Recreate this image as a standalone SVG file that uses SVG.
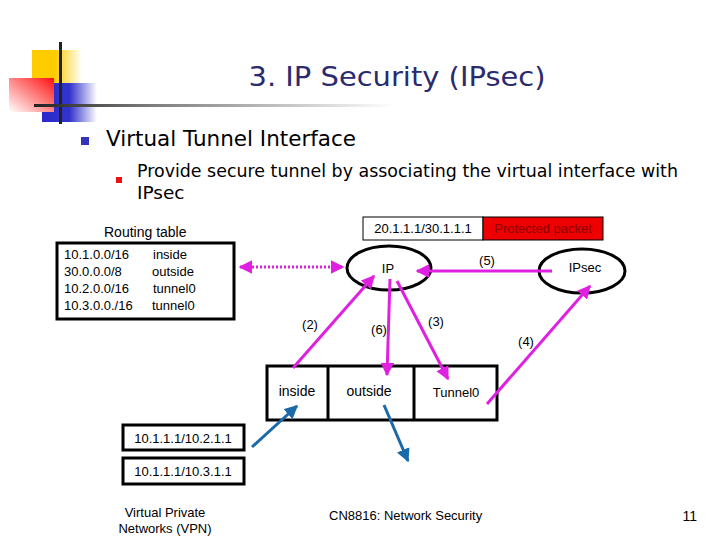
<svg xmlns="http://www.w3.org/2000/svg" width="720" height="540" viewBox="0 0 720 540">
<style>
text{font-family:"DejaVu Sans","Liberation Sans",sans-serif;fill:#000}
.sm{font-family:"Liberation Sans",Arial,sans-serif;font-size:13px}
.box{fill:#fff;stroke:#000;stroke-width:3}
.mag{stroke:#e020e0;stroke-width:3;fill:none}
.blu{stroke:#1a6aaa;stroke-width:3;fill:none}
</style>
<defs>
<linearGradient id="gy" x1="0" y1="0" x2="1" y2="0"><stop offset="0" stop-color="#ffcc00"/><stop offset="0.45" stop-color="#ffcc00"/><stop offset="1" stop-color="#fff"/></linearGradient>
<linearGradient id="gb" x1="0" y1="0" x2="1" y2="0"><stop offset="0" stop-color="#2a2acc"/><stop offset="0.5" stop-color="#3333cc"/><stop offset="1" stop-color="#fff"/></linearGradient>
<linearGradient id="gr" x1="1" y1="0" x2="0" y2="1"><stop offset="0" stop-color="#ff1010"/><stop offset="1" stop-color="#fff"/></linearGradient>
<linearGradient id="gl" x1="0" y1="0" x2="1" y2="0"><stop offset="0" stop-color="#222"/><stop offset="0.3" stop-color="#777"/><stop offset="1" stop-color="#fff"/></linearGradient>
<marker id="am" viewBox="0 0 10 10" refX="9" refY="5" markerWidth="4.5" markerHeight="4.5" orient="auto-start-reverse"><path d="M0,0 L10,5 L0,10 z" fill="#e020e0"/></marker>
<marker id="ab" viewBox="0 0 10 10" refX="9" refY="5" markerWidth="4.5" markerHeight="4.5" orient="auto"><path d="M0,0 L10,5 L0,10 z" fill="#1a6aaa"/></marker>
</defs>
<rect width="720" height="540" fill="#fff"/>
<g id="logo">
<rect x="32" y="50" width="50" height="34" fill="url(#gy)"/>
<rect x="42" y="83" width="55" height="39" fill="url(#gb)"/>
<rect x="9" y="78" width="45" height="34" fill="url(#gr)"/>
<rect x="59" y="42" width="3" height="82" fill="#222"/>
<rect x="34" y="104" width="360" height="3" fill="url(#gl)"/>
</g>
<g id="title"><text x="397" y="86" text-anchor="middle" font-size="27" textLength="297" lengthAdjust="spacingAndGlyphs" style="fill:#2a2a6e;font-family:'DejaVu Sans',sans-serif">3. IP Security (IPsec)</text></g>
<g id="bullets">
<rect x="81" y="137" width="8" height="8" fill="#3333bb"/>
<text x="106" y="146" font-size="21" textLength="250" lengthAdjust="spacingAndGlyphs">Virtual Tunnel Interface</text>
<rect x="116" y="177" width="6" height="6" fill="#ee1111"/>
<text x="137" y="177" font-size="18.5" textLength="541" lengthAdjust="spacingAndGlyphs">Provide secure tunnel by associating the virtual interface with</text>
<text x="137" y="199" font-size="18.5">IPsec</text>
</g>
<g id="routing-table">
<text class="sm" x="104" y="237" style="font-size:14px">Routing table</text>
<rect class="box" x="57" y="243" width="177" height="76"/>
<text class="sm" x="64" y="259">10.1.0.0/16</text><text class="sm" x="153" y="259">inside</text>
<text class="sm" x="64" y="276">30.0.0.0/8</text><text class="sm" x="152" y="276">outside</text>
<text class="sm" x="64" y="293">10.2.0.0/16</text><text class="sm" x="153" y="293">tunnel0</text>
<text class="sm" x="64" y="310">10.3.0.0./16</text><text class="sm" x="152" y="310">tunnel0</text>
</g>
<g id="packet">
<rect x="363" y="217" width="120" height="23" fill="#fff" stroke="#000" stroke-width="1"/>
<rect x="483" y="217" width="120" height="23" fill="#ee0000" stroke="#000" stroke-width="1"/>
<text class="sm" x="423" y="233" text-anchor="middle">20.1.1.1/30.1.1.1</text>
<text class="sm" x="543" y="233" text-anchor="middle" style="fill:#8a0000">Protected packet</text>
</g>
<g id="ip"><ellipse class="box" cx="389" cy="268" rx="42" ry="22"/><text class="sm" x="388" y="273" text-anchor="middle">IP</text></g>
<g id="ipsec"><ellipse class="box" cx="582" cy="271" rx="43" ry="22"/><text class="sm" x="585" y="272" text-anchor="middle">IPsec</text></g>
<g id="interfaces">
<rect class="box" x="267" y="366" width="230" height="54"/>
<line x1="328" y1="366" x2="328" y2="420" stroke="#000" stroke-width="3"/>
<line x1="414" y1="366" x2="414" y2="420" stroke="#000" stroke-width="3"/>
<text class="sm" x="297" y="396" text-anchor="middle" style="font-size:14px">inside</text>
<text class="sm" x="369" y="396" text-anchor="middle" style="font-size:14px">outside</text>
<text class="sm" x="456" y="397" text-anchor="middle">Tunnel0</text>
</g>
<g id="vpn">
<rect class="box" x="123" y="425" width="121" height="25"/>
<text class="sm" x="183" y="443" text-anchor="middle">10.1.1.1/10.2.1.1</text>
<rect class="box" x="123" y="458" width="121" height="26"/>
<text class="sm" x="183" y="476" text-anchor="middle">10.1.1.1/10.3.1.1</text>
<text class="sm" x="165" y="517" text-anchor="middle">Virtual Private</text>
<text class="sm" x="165" y="533" text-anchor="middle">Networks (VPN)</text>
</g>
<g id="connectors">
<line class="mag" x1="240" y1="267" x2="343" y2="267" stroke-dasharray="2 2" marker-start="url(#am)" marker-end="url(#am)"/>
<line class="mag" x1="552" y1="271" x2="417" y2="271" marker-end="url(#am)"/>
<line class="mag" x1="293" y1="368" x2="374" y2="276" marker-end="url(#am)"/>
<line class="mag" x1="390" y1="279" x2="387" y2="375" marker-end="url(#am)"/>
<line class="mag" x1="397" y1="281" x2="448" y2="379" marker-end="url(#am)"/>
<line class="mag" x1="487" y1="404" x2="590" y2="286" marker-end="url(#am)"/>
<line class="blu" x1="252" y1="447" x2="297" y2="406" marker-end="url(#ab)"/>
<line class="blu" x1="384" y1="405" x2="408" y2="461" marker-end="url(#ab)"/>
<text class="sm" x="487" y="265" text-anchor="middle">(5)</text>
<text class="sm" x="310" y="329" text-anchor="middle">(2)</text>
<text class="sm" x="379" y="334" text-anchor="middle">(6)</text>
<text class="sm" x="436" y="326" text-anchor="middle">(3)</text>
<text class="sm" x="526" y="346" text-anchor="middle">(4)</text>
</g>
<g id="footer">
<text class="sm" x="329" y="520">CN8816: Network Security</text>
<text class="sm" x="697" y="521" text-anchor="end" style="font-size:14px">11</text>
</g>
</svg>
